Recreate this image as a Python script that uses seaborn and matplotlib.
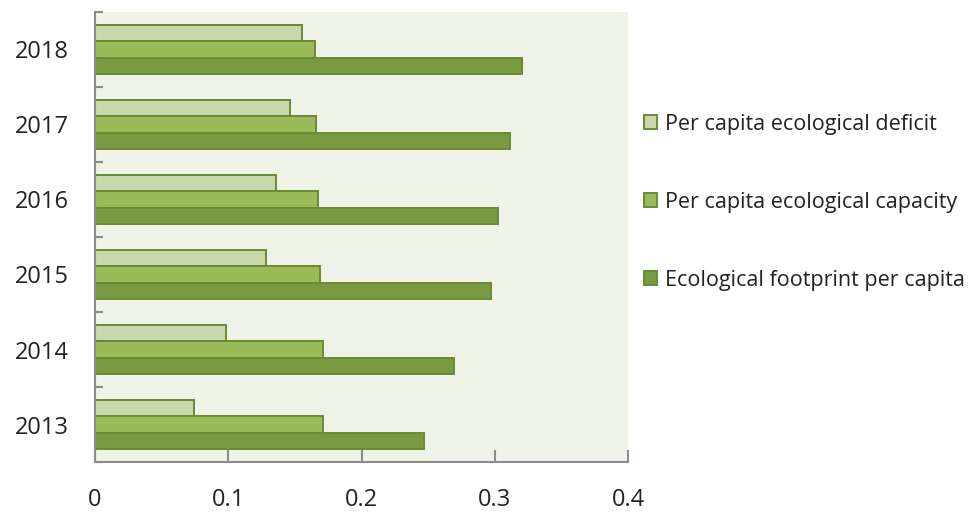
import numpy as np
import pandas as pd
import matplotlib
matplotlib.use("Agg")
import matplotlib.pyplot as plt
import seaborn as sns
from matplotlib.ticker import FixedLocator, NullFormatter

years = ["2018", "2017", "2016", "2015", "2014", "2013"]
series = ["Per capita ecological deficit",
          "Per capita ecological capacity",
          "Ecological footprint per capita"]
deficit = [0.155, 0.146, 0.136, 0.128, 0.098, 0.074]
capacity = [0.165, 0.166, 0.167, 0.169, 0.171, 0.171]
footprint = [0.320, 0.311, 0.302, 0.297, 0.269, 0.247]
colors = ["#c8d8ad", "#9bbb59", "#7a9a42"]
edge = "#6a8a34"
x_ticks = [0, 0.1, 0.2, 0.3, 0.4]

df = pd.DataFrame({
    "year": years * 3,
    "series": [series[0]] * 6 + [series[1]] * 6 + [series[2]] * 6,
    "value": deficit + capacity + footprint,
})

sns.set_style("white")
plt.rcParams["font.family"] = ["Open Sans", "DejaVu Sans"]

fig = plt.figure(figsize=(9.74, 5.14), dpi=100)
ax = fig.add_axes([0.0975, 0.101, 0.5475, 0.876])
ax.set_facecolor("#eef2e7")

sns.barplot(data=df, x="value", y="year", hue="series", order=years,
            hue_order=series, palette=colors, orient="h", width=0.66,
            edgecolor=edge, linewidth=1.4, saturation=1, ax=ax, legend=False)

ax.set_xlim(0, 0.4)
ax.set_ylim(5.5, -0.5)
ax.set_xlabel("")
ax.set_ylabel("")

for s in ["top", "right"]:
    ax.spines[s].set_visible(False)
for s in ["left", "bottom"]:
    ax.spines[s].set_color("#8c8c8c")
    ax.spines[s].set_linewidth(1.5)

# x ticks point inward, labels well below
ax.set_xticks(x_ticks)
ax.set_xticklabels(["0", "0.1", "0.2", "0.3", "0.4"])
ax.tick_params(axis="x", direction="in", length=9, width=1.5, color="#8c8c8c",
               pad=19, labelsize=17, labelcolor="#222222", bottom=True)

# y: boundary ticks inward, labels at category centres
ax.yaxis.set_major_locator(FixedLocator(np.arange(-0.5, 6.0, 1.0)))
ax.yaxis.set_major_formatter(NullFormatter())
ax.yaxis.set_minor_locator(FixedLocator(np.arange(0, 6)))
ax.set_yticklabels(years, minor=True)
ax.tick_params(axis="y", which="major", direction="in", length=6, width=1.5,
               color="#8c8c8c", left=True)
ax.tick_params(axis="y", which="minor", length=0, pad=19, labelsize=17,
               labelcolor="#222222", left=True)

handles = [plt.Rectangle((0, 0), 1, 1, facecolor=c, edgecolor=edge, linewidth=1.4)
           for c in colors]
fig.legend(handles, series, loc="upper left", bbox_to_anchor=(0.661, 0.779),
           frameon=False, fontsize=15.5, handlelength=0.6, handleheight=0.6,
           handletextpad=0.4, labelspacing=2.65, borderaxespad=0,
           borderpad=0, labelcolor="#222222")

fig.savefig("out.png", dpi=100)
